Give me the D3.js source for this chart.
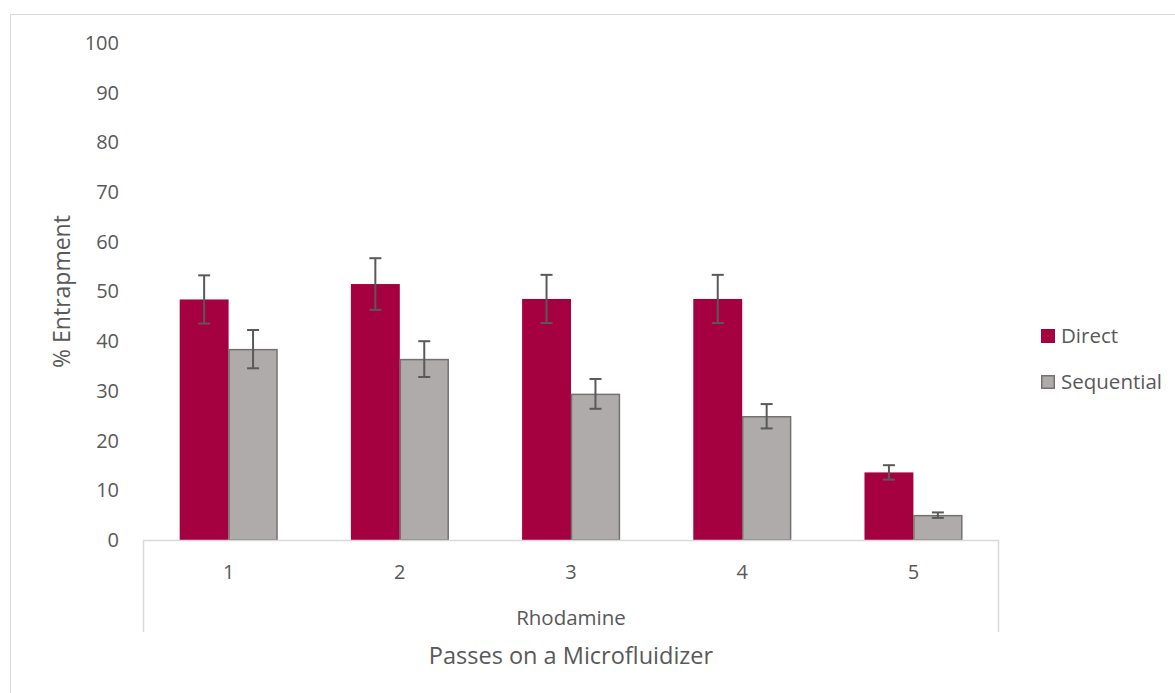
<!DOCTYPE html>
<html><head><meta charset="utf-8">
<script src="https://cdn.jsdelivr.net/npm/d3@7"></script>
<style>body{margin:0;background:#fff}svg{display:block;font-family:"Open Sans",sans-serif}</style>
</head><body><svg id="c" width="1175" height="693"></svg>
<script>
const categories = ["1","2","3","4","5"];
const groupLabel = "Rhodamine";
const seriesNames = ["Direct","Sequential"];
const directVals = [48.4, 51.5, 48.5, 48.5, 13.6];
const directErr = [4.85, 5.2, 4.85, 4.85, 1.45];
const seqVals = [38.4, 36.4, 29.4, 24.9, 5.0];
const seqErr = [3.85, 3.6, 3.0, 2.45, 0.55];
const yTicks = [0,10,20,30,40,50,60,70,80,90,100];

const svg = d3.select("#c");
const L = 143, R = 999, T = 43, B = 540;
const textCol = "#595959";
const colors = ["#A50040", "#AFABAB"];
const strokes = [null, "#767171"];

svg.append("rect").attr("x",10.5).attr("y",14.5).attr("width",1175).attr("height",700)
  .attr("fill","none").attr("stroke","#D9D9D9");

const x = d3.scaleBand().domain(categories).range([L,R]).paddingInner(0).paddingOuter(0);
const bw = x.bandwidth()/ (2 + 1.5);
const y = d3.scaleLinear().domain([0,100]).range([B,T]);

// y tick labels
const ya = svg.append("g").attr("transform",`translate(${L-24},0)`)
  .call(d3.axisLeft(y).tickValues(yTicks).tickSize(0).tickPadding(0));
ya.select(".domain").remove();
ya.selectAll("text").attr("font-size",20).attr("fill",textCol).attr("font-family","Open Sans");

const data = [
  {vals: directVals, err: directErr},
  {vals: seqVals, err: seqErr}
];
data.forEach((s, si) => {
  const g = svg.append("g");
  g.selectAll("rect").data(categories).join("rect")
    .attr("x", c => x(c) + 0.75*bw + si*bw + (si? 0.5:0))
    .attr("y", (c,i) => y(s.vals[i]) + (si?0.5:0))
    .attr("width", bw - (si?1:0))
    .attr("height", (c,i) => y(0) - y(s.vals[i]) - (si?0.5:0))
    .attr("fill", colors[si])
    .attr("stroke", strokes[si] || "none").attr("stroke-width", si?1.5:0);
});
// error bars
data.forEach((s, si) => {
  const g = svg.append("g").attr("stroke","#595959").attr("stroke-width",2).attr("fill","none");
  categories.forEach((c,i) => {
    const cx = x(c) + 0.75*bw + si*bw + bw/2;
    const y1 = y(s.vals[i] + s.err[i]), y2 = y(s.vals[i] - s.err[i]);
    g.append("line").attr("x1",cx).attr("x2",cx).attr("y1",y1).attr("y2",y2);
    g.append("line").attr("x1",cx-6).attr("x2",cx+6).attr("y1",y1).attr("y2",y1);
    g.append("line").attr("x1",cx-6).attr("x2",cx+6).attr("y1",y2).attr("y2",y2);
  });
});

// category axis
svg.append("line").attr("x1",L).attr("x2",R).attr("y1",B+0.5).attr("y2",B+0.5).attr("stroke","#D9D9D9").attr("stroke-width",1.5);
svg.append("line").attr("x1",L+0.5).attr("x2",L+0.5).attr("y1",B).attr("y2",632).attr("stroke","#D9D9D9").attr("stroke-width",1.5);
svg.append("line").attr("x1",R-0.5).attr("x2",R-0.5).attr("y1",B).attr("y2",632).attr("stroke","#D9D9D9").attr("stroke-width",1.5);
svg.append("g").selectAll("text").data(categories).join("text")
  .attr("x", c => x(c)+x.bandwidth()/2).attr("y",572).attr("dy","0.35em")
  .attr("text-anchor","middle").attr("font-size",20).attr("fill",textCol).text(c=>c);
svg.append("text").attr("x",(L+R)/2).attr("y",618).attr("dy","0.35em").attr("text-anchor","middle")
  .attr("font-size",20.5).attr("fill",textCol).text(groupLabel);
svg.append("text").attr("x",(L+R)/2).attr("y",656).attr("dy","0.35em").attr("text-anchor","middle")
  .attr("font-size",23.5).attr("fill",textCol).text("Passes on a Microfluidizer");
svg.append("text").attr("transform",`translate(62,${(T+B)/2}) rotate(-90)`).attr("dy","0.35em")
  .attr("text-anchor","middle").attr("font-size",23).attr("fill",textCol).text("% Entrapment");

// legend
const lg = svg.append("g");
seriesNames.forEach((n,i) => {
  const yy = 336 + i*46;
  lg.append("rect").attr("x",1041+(i?0.75:0)).attr("y",yy-7+(i?0.75:0)).attr("width",14-(i?1.5:0)).attr("height",14-(i?1.5:0))
    .attr("fill",colors[i]).attr("stroke",strokes[i]||"none").attr("stroke-width",i?1.5:0);
  lg.append("text").attr("x",1061).attr("y",yy).attr("dy","0.35em").attr("font-size",20.5).attr("fill",textCol).text(n);
});
</script></body></html>
